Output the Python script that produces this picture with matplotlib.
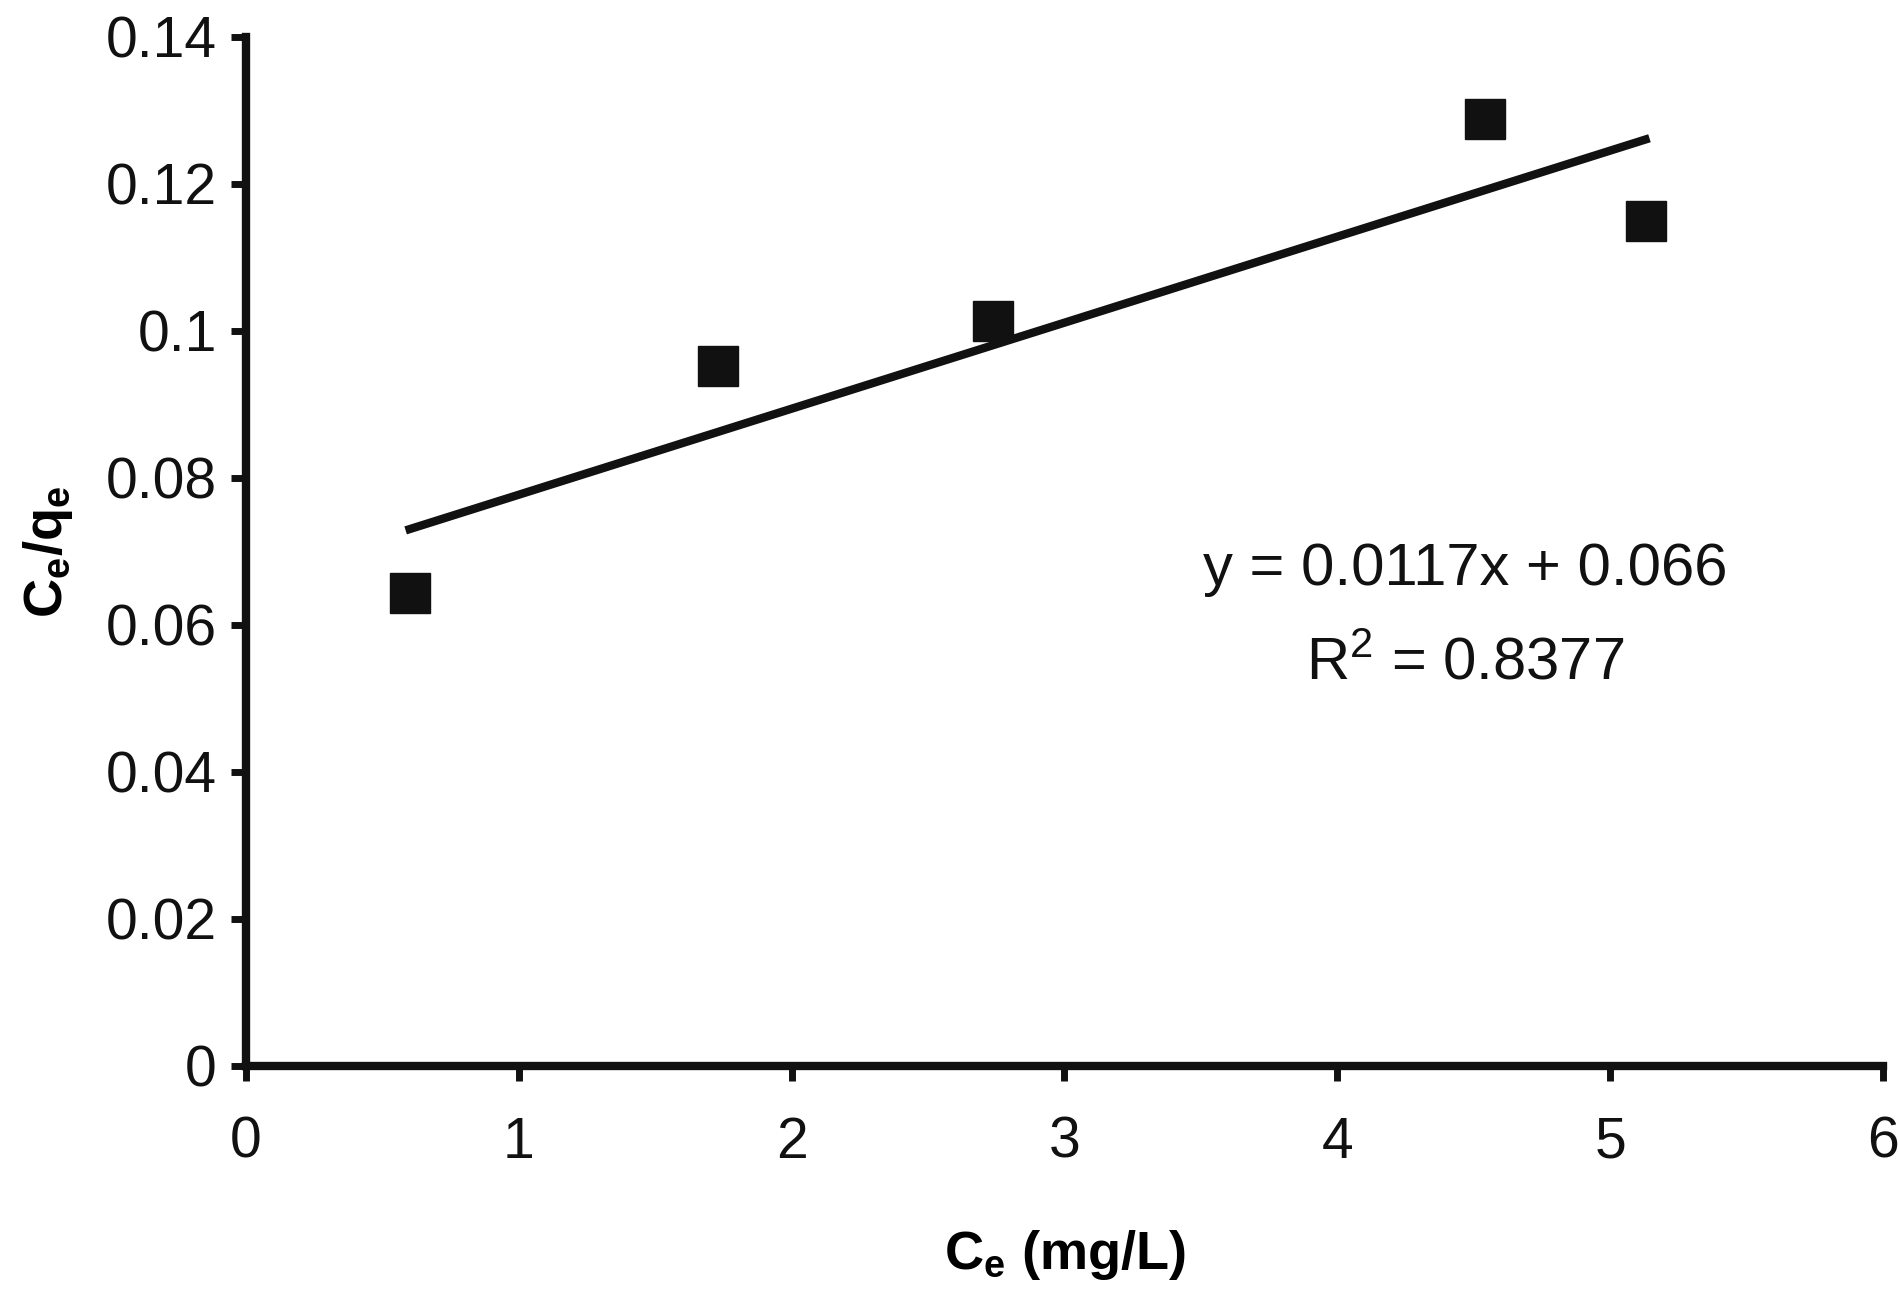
import matplotlib
matplotlib.use("Agg")
import matplotlib.pyplot as plt
import numpy as np

plt.rcParams['font.family'] = ['Liberation Sans', 'DejaVu Sans']
plt.rcParams['mathtext.fontset'] = 'custom'
plt.rcParams['mathtext.rm'] = 'Liberation Sans'
plt.rcParams['mathtext.it'] = 'Liberation Sans'
plt.rcParams['mathtext.bf'] = 'Liberation Sans:bold'

# data
ce = [0.60, 1.73, 2.74, 4.54, 5.13]
ce_qe = [0.0643, 0.0952, 0.1013, 0.1288, 0.1150]
slope = 0.0117
intercept = 0.066
eq_text = "y = 0.0117x + 0.066"
r2_text = "R$^2$ = 0.8377"

fig = plt.figure(figsize=(18.99, 12.93), dpi=100)
ax = fig.add_axes([0.1295, 0.1756, 0.862, 0.796])

ax.plot(ce, ce_qe, 's', color='#111111', markersize=29, linestyle='none')
xf = np.array([min(ce), max(ce)])
ax.plot(xf, slope * xf + intercept, color='#111111', linewidth=6)

ax.set_xlim(0, 6)
ax.set_ylim(0, 0.14)
ax.set_xticks(range(0, 7))
ax.set_yticks([0, 0.02, 0.04, 0.06, 0.08, 0.1, 0.12, 0.14])
ax.set_yticklabels(['0', '0.02', '0.04', '0.06', '0.08', '0.1', '0.12', '0.14'])

for s in ['top', 'right']:
    ax.spines[s].set_visible(False)
for s in ['left', 'bottom']:
    ax.spines[s].set_linewidth(6)
    ax.spines[s].set_color('#111111')
ax.tick_params(axis='both', direction='out', length=11, width=5, labelsize=41,
               color='#111111', labelcolor='#111111')
ax.tick_params(axis='x', pad=25)
ax.tick_params(axis='y', pad=10)

ax.set_xlabel(r'$\mathbf{C_e}$ (mg/L)', fontsize=39, fontweight='bold', labelpad=42)
ax.set_ylabel(r'$\mathbf{C_e/q_e}$', fontsize=39, fontweight='bold', labelpad=22)

ax.text(4.47, 0.0675, eq_text, fontsize=43, ha='center', va='center', color='#111111')
ax.text(4.47, 0.0547, r2_text, fontsize=43, ha='center', va='center', color='#111111')

fig.savefig('out.png', dpi=100)
